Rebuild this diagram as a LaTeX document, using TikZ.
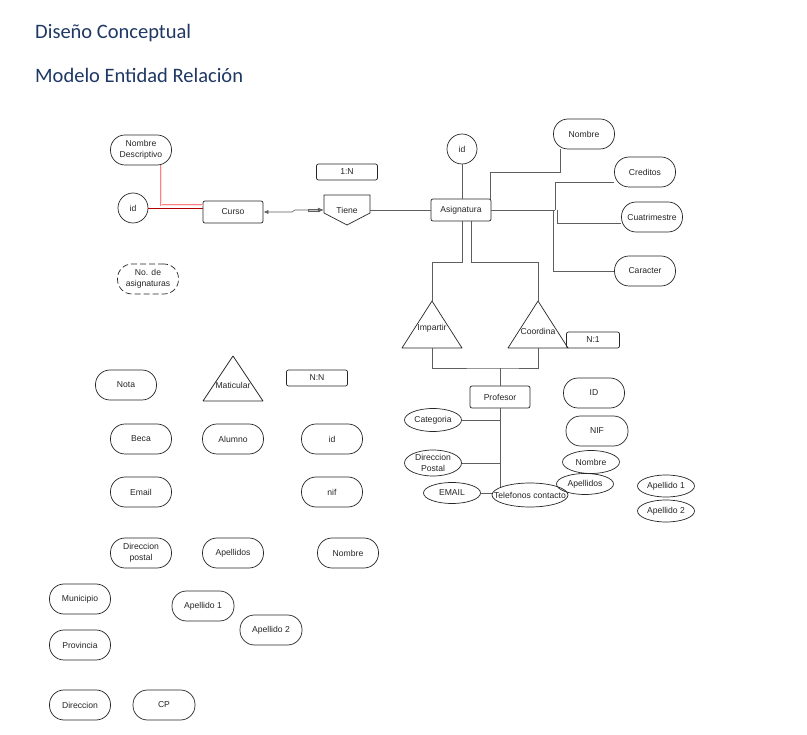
\documentclass[tikz,border=0pt]{standalone}
\usepackage{fontspec}
\setmainfont{Liberation Sans}
\newfontfamily\titlefont{Carlito}
\usetikzlibrary{shapes.geometric,arrows.meta}
\definecolor{titleblue}{HTML}{1F3864}
\definecolor{inkgray}{HTML}{262626}
\definecolor{linegray}{HTML}{5E5E5E}

\begin{document}
\begin{tikzpicture}[x=1pt, y=-1pt, font=\fontsize{8.6}{10.6}\selectfont, text=inkgray,
  pill/.style={draw=inkgray, rounded corners=14.5pt, minimum width=61pt, minimum height=30pt, align=center, line width=0.7pt},
  box/.style={draw=inkgray, rounded corners=2pt, minimum width=60pt, minimum height=22pt, line width=0.7pt},
  tag/.style={draw=inkgray, rounded corners=2pt, minimum width=61pt, minimum height=16pt, line width=0.7pt},
  attr/.style={draw=inkgray, ellipse, minimum width=57pt, minimum height=22pt, inner sep=0pt, align=center, line width=0.7pt},
  keyc/.style={draw=inkgray, circle, minimum size=30pt, inner sep=0pt, line width=0.7pt},
  relshape/.style={draw=inkgray, line width=0.7pt, line join=round},
  conn/.style={draw=linegray, line width=0.6pt}]
  \useasboundingbox[fill=white] (0,0) rectangle (807,735);

  % Titles
  \node[anchor=base west, inner sep=0pt, text=titleblue, font=\titlefont\fontsize{20.5}{24}\selectfont] (title1) at (35,39) {Diseño Conceptual};
  \node[anchor=base west, inner sep=0pt, text=titleblue, font=\titlefont\fontsize{20.5}{24}\selectfont] (title2) at (35,83) {Modelo Entidad Relación};

  % Curso and its attributes
  \node[pill] (nomdesc) at (141,150) {Nombre\\Descriptivo};
  \node[keyc] (cursoid) at (133,208) {id};
  \node[box] (curso) at (233,212) {Curso};
  \node[pill, dash pattern=on 6pt off 3pt] (numasig) at (148,279) {No. de\\asignaturas};

  % Tiene relation
  \draw[relshape] (324,195) -- (370,195) -- (370,213) -- (347,225) -- (324,213) -- cycle;
  \node[minimum width=46pt, minimum height=30pt, inner sep=0pt] (tiene) at (347,210) {Tiene};
  \node[tag] (tagtiene) at (347,172) {1:N};

  % Asignatura and its attributes
  \node[keyc] (asigid) at (462,149) {id};
  \node[box] (asig) at (461,210) {Asignatura};
  \node[pill] (asignom) at (584,134) {Nombre};
  \node[pill] (cred) at (645,172) {Creditos};
  \node[pill] (cuat) at (652,217) {Cuatrimestre};
  \node[pill] (carac) at (645,271) {Caracter};

  % Impartir and Coordina relations
  \draw[relshape] (432,301) coordinate (impTop) -- (462,348) -- (402,348) -- cycle;
  \coordinate (impBot) at (432,348);
  \node (impartir) at (432,328) {Impartir};
  \draw[relshape] (538,301) coordinate (coordTop) -- (568,348) -- (508,348) -- cycle;
  \coordinate (coordBot) at (538,348);
  \node (coordina) at (538,331) {Coordina};
  \node[tag, minimum width=53pt] (tagprof) at (593,340) {N:1};
  \coordinate (join) at (500,368);

  % Profesor and its attributes
  \node[box] (prof) at (500,397) {Profesor};
  \node[attr, minimum height=23pt] (cat) at (433,420) {Categoria};
  \node[attr, minimum height=26pt] (dirp) at (433,463) {Direccion\\Postal};
  \node[attr, minimum height=21pt] (email) at (452,493) {EMAIL};
  \node[attr, minimum width=76pt, minimum height=24pt] (tel) at (530,495) {};
  \node (tellabel) at (530,495) {Telefonos contacto};
  \node[pill] (profid) at (594,393) {ID};
  \node[pill, minimum width=62pt] (profnif) at (597,431) {NIF};
  \node[attr, minimum height=23pt] (profnom) at (591,462) {Nombre};
  \node[attr, minimum height=21pt] (profape) at (585,484) {Apellidos};
  \node[attr, minimum height=22pt] (profape1) at (666,486) {Apellido 1};
  \node[attr, minimum height=22pt] (profape2) at (666,511) {Apellido 2};

  % Alumno block
  \node[pill] (nota) at (126,385) {Nota};
  \draw[relshape] (233,356) -- (263,401) -- (203,401) -- cycle;
  \node (matic) at (233,385) {Maticular};
  \node[tag] (tagalum) at (317,378) {N:N};
  \node[pill] (beca) at (141,439) {Beca};
  \node[pill] (alumno) at (233,439) {Alumno};
  \node[pill] (alumid) at (332,439) {id};
  \node[pill] (alumemail) at (141,492) {Email};
  \node[pill] (alumnif) at (332,492) {nif};
  \node[pill] (alumdir) at (141,553) {Direccion\\postal};
  \node[pill] (alumape) at (233,553) {Apellidos};
  \node[pill] (alumnom) at (348,553) {Nombre};
  \node[pill] (municipio) at (80,599) {Municipio};
  \node[pill] (provincia) at (80,645) {Provincia};
  \node[pill] (direccion) at (80,705) {Direccion};
  \node[pill, minimum width=62pt] (cp) at (164,705) {CP};
  \node[pill, minimum width=62pt] (alumape1) at (203,606) {Apellido 1};
  \node[pill, minimum width=62pt] (alumape2) at (271,630) {Apellido 2};

  % Connectors
  \draw[draw=red!50, double=red!12, double distance=0.7pt, line width=0.5pt] ([xshift=20pt]nomdesc.south) |- ([yshift=7pt]curso.west);
  \draw[draw=red!70!black, line width=0.7pt] (cursoid.east) -- (cursoid.east -| curso.west);
  \draw[conn, {Latex[length=5pt,width=4pt]}-{Latex[length=6pt,width=5pt]}] (curso.east) -- (292,212) -- (295,210) -- (tiene.west);
  \draw[linegray, line width=0.4pt] (308,209) rectangle (319,211.5);
  \draw[conn] (tiene.east) -- (asig.west);
  \draw[conn] (asigid.south) -- (asigid.south |- asig.north);
  \draw[conn] ([xshift=-1pt]asig.north east) -- ++(0,-26) -| ([xshift=-24pt]asignom.south);
  \draw[conn] (asig.east) -- (555,210);
  \draw[conn] (555,210) |- ([yshift=-10pt]cred.west);
  \draw[conn] (557,210) |- ([yshift=-6pt]cuat.west);
  \draw[conn] (553,210) |- (carac.west);
  \draw[conn] ([xshift=1pt]asig.south) -- ++(0,41) -| (impTop);
  \draw[conn] ([xshift=10pt]asig.south) -- ++(0,41) -| (coordTop);
  \draw[conn] (impBot) |- (join) -| (coordBot);
  \draw[conn] (join) -- (prof.north);
  \draw[conn] (prof.south) -- (prof.south |- tel.166);
  \draw[conn] (cat.east) -- (cat.east -| prof.south);
  \draw[conn] (dirp.east) -- (dirp.east -| prof.south);
  \draw[conn] (email.east) -- (email.east -| tel.west);
\end{tikzpicture}
\end{document}
